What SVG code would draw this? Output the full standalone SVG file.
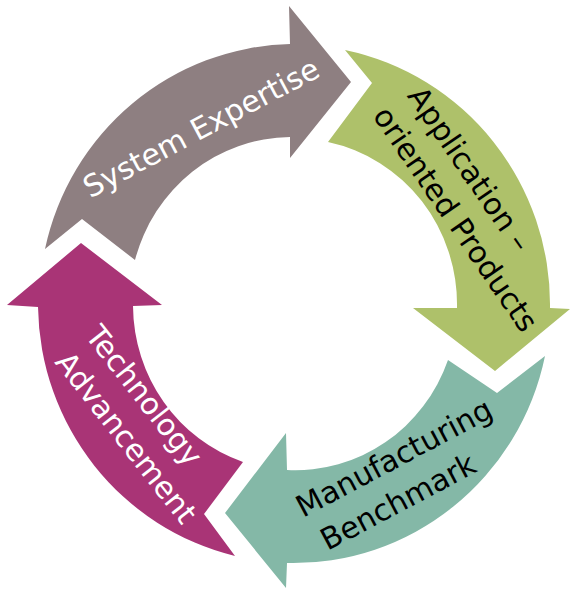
<svg xmlns="http://www.w3.org/2000/svg" width="581" height="600" viewBox="0 0 581 600">
<style>
.lbl{font-family:"DejaVu Sans","Verdana",sans-serif;font-size:30px;text-anchor:middle}
.w{fill:#ffffff}
.k{fill:#000000}
</style>
<rect width="581" height="600" fill="#ffffff"/>
<g id="connectors"/>
<g id="system-expertise">
<path fill="#8e7f81" d="M 45,249 A 257 260 0 0 1 290,44 L 289,6 L 351,82 L 290,158 L 290,137 A 162 166 0 0 0 135,260 L 82,219 Z"/>
<text class="lbl w" transform="translate(206,137) rotate(-28)">System Expertise</text>
</g>
<g id="application-oriented-products">
<path fill="#aec16a" d="M 345,50 A 257 260 0 0 1 550,308 L 570,309 L 495,371 L 413,308 L 457,308 A 162 166 0 0 0 328,142 L 372,83 Z"/>
<text class="lbl k" transform="translate(461,175) rotate(55.5)">Application –</text>
<text class="lbl k" transform="translate(447,225) rotate(55.5)">oriented Products</text>
</g>
<g id="manufacturing-benchmark">
<path fill="#84b8a7" d="M 545,356 A 257 260 0 0 1 287,563 L 286,588 L 225,513 L 286,433 L 287,470 A 162 166 0 0 0 448,360 L 497,393 Z"/>
<text class="lbl k" transform="translate(399,467) rotate(-28)">Manufacturing</text>
<text class="lbl k" transform="translate(403,511) rotate(-28)">Benchmark</text>
</g>
<g id="technology-advancement">
<path fill="#a93476" d="M 235,556 A 257 260 0 0 1 38,307 L 7,305 L 81,243 L 162,305 L 133,306 A 162 166 0 0 0 243,462 L 204,514 Z"/>
<text class="lbl w" transform="translate(136,402) rotate(52)">Technology</text>
<text class="lbl w" transform="translate(118,444) rotate(52)">Advancement</text>
</g>
</svg>
